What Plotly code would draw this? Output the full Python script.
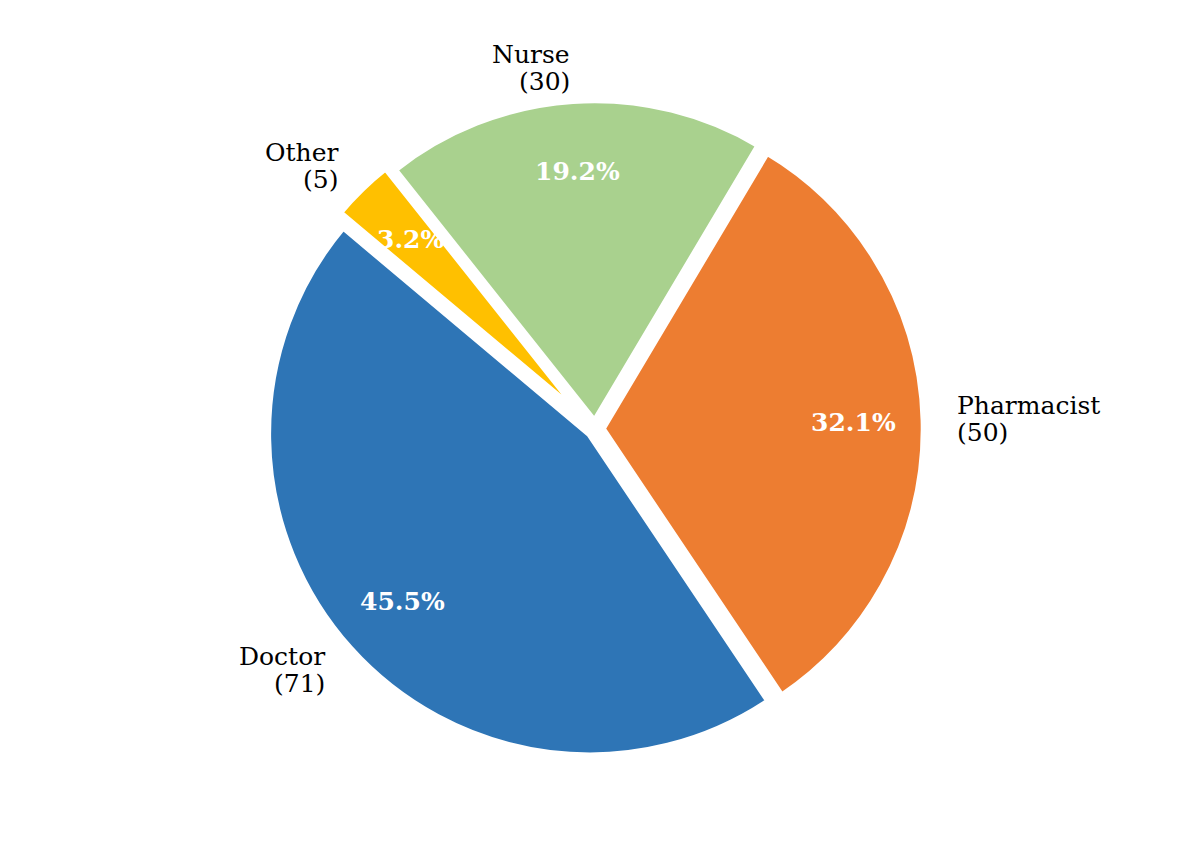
import math
import plotly.graph_objects as go

# staff breakdown
labels = ["Doctor", "Pharmacist", "Nurse", "Other"]
counts = [71, 50, 30, 5]
colors = ["#2E75B6", "#ED7D31", "#A9D18E", "#FFC000"]
explode = [0.022, 0.022, 0.022, 0.04]

W, H = 1189, 849
margin = dict(l=0, r=15, t=86, b=93)
start_angle = 140      # first slice starts here, ccw from 3 o'clock
pct_dist = 0.78
label_dist = 1.1
font = "DejaVu Serif"
fsize = 25
line_gap = 27          # px between the two label lines

# same geometry plotly uses for the pie, so the labels can sit on it
pw = W - margin["l"] - margin["r"]
ph = H - margin["t"] - margin["b"]
R = min(pw, ph) / (2 + 2 * max(explode))
cx = margin["l"] + pw / 2
cy = margin["t"] + ph / 2
total = sum(counts)


def to_paper(px, py):
    return (px - margin["l"]) / pw, 1 - (py - margin["t"]) / ph


# plotly (ccw) puts the END of the first slice at the rotation angle
first_end = start_angle + counts[0] / total * 360
rot = ((90 - first_end) + 180) % 360 - 180

fig = go.Figure(go.Pie(
    labels=labels,
    values=counts,
    sort=False,
    direction="counterclockwise",
    rotation=rot,
    pull=explode,
    marker=dict(colors=colors, line=dict(color="white", width=7)),
    textinfo="none",
    showlegend=False,
))

annotations = []
acc = 0
for lab, v, ex in zip(labels, counts, explode):
    mid = math.radians(start_angle + (acc + v / 2) / total * 360)
    acc += v
    c, s = math.cos(mid), math.sin(mid)

    d = (ex + pct_dist) * R
    x, y = to_paper(cx + d * c, cy - d * s)
    annotations.append(dict(
        x=x, y=y, xref="paper", yref="paper", showarrow=False,
        text="<b>%.1f%%</b>" % (v / total * 100),
        font=dict(family=font, size=fsize, color="white"),
        xanchor="center", yanchor="middle",
    ))

    d = (ex + label_dist) * R
    x, y = to_paper(cx + d * c, cy - d * s)
    side = "right" if c < 0 else "left"
    for txt, shift in ((lab, line_gap / 2), ("(%d)" % v, -line_gap / 2)):
        annotations.append(dict(
            x=x, y=y, xref="paper", yref="paper", showarrow=False,
            text=txt, yshift=shift, borderpad=0,
            font=dict(family=font, size=fsize, color="black"),
            xanchor=side, yanchor="middle", align=side,
        ))

fig.update_layout(
    width=W, height=H,
    margin=margin,
    paper_bgcolor="white",
    plot_bgcolor="white",
    annotations=annotations,
)

fig.write_html("out.html")
